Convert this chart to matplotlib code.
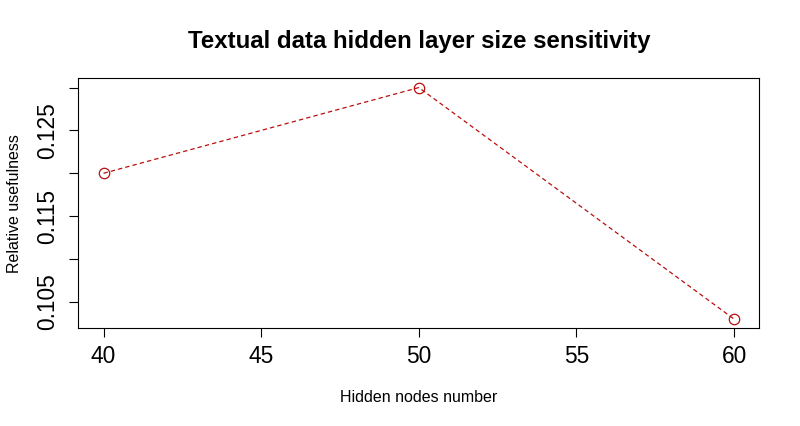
import numpy as np
import matplotlib
matplotlib.use('Agg')
import matplotlib.pyplot as plt

# hidden layer sizes and relative usefulness
hidden_nodes = [40, 50, 60]
usefulness = [0.120, 0.130, 0.103]

y_ticks = [0.105, 0.110, 0.115, 0.120, 0.125, 0.130]
y_labels = ['0.105', '', '0.115', '', '0.125', '']
x_ticks = [40, 45, 50, 55, 60]

plt.rcParams['font.family'] = ['Liberation Sans', 'DejaVu Sans']

fig = plt.figure(figsize=(8, 4.26), dpi=100)
ax = fig.add_axes([0.0979, 0.2293, 0.9491 - 0.0979, 0.8162 - 0.2293])

col = '#BA0F0F'
ax.plot(hidden_nodes, usefulness, color=col, linestyle=(0, (3.5, 2.5)), lw=0.9,
        marker='o', markersize=7.5, markerfacecolor='none', markeredgecolor=col,
        markeredgewidth=0.9)

# R style 4% padding
rng = max(usefulness) - min(usefulness)
ax.set_ylim(min(usefulness) - 0.04 * rng, max(usefulness) + 0.04 * rng)
ax.set_xlim(39.2, 60.8)

ax.set_xticks(x_ticks)
ax.set_xticklabels([str(v) for v in x_ticks], fontsize=16.4)
ax.set_yticks(y_ticks)
ax.set_yticklabels(y_labels, fontsize=16.4, rotation=90, va='center')
ax.tick_params(direction='out', length=6.7, width=0.8, pad=5)
ax.tick_params(axis='y', pad=7)

for s in ax.spines.values():
    s.set_linewidth(0.8)

ax.set_xlabel('Hidden nodes number', fontsize=11.5, labelpad=16)
ax.set_ylabel('Relative usefulness', fontsize=11.5, labelpad=10)
ax.set_title('Textual data hidden layer size sensitivity', fontsize=17.3,
             fontweight='bold', pad=22)

plt.savefig('out.png', dpi=100)
